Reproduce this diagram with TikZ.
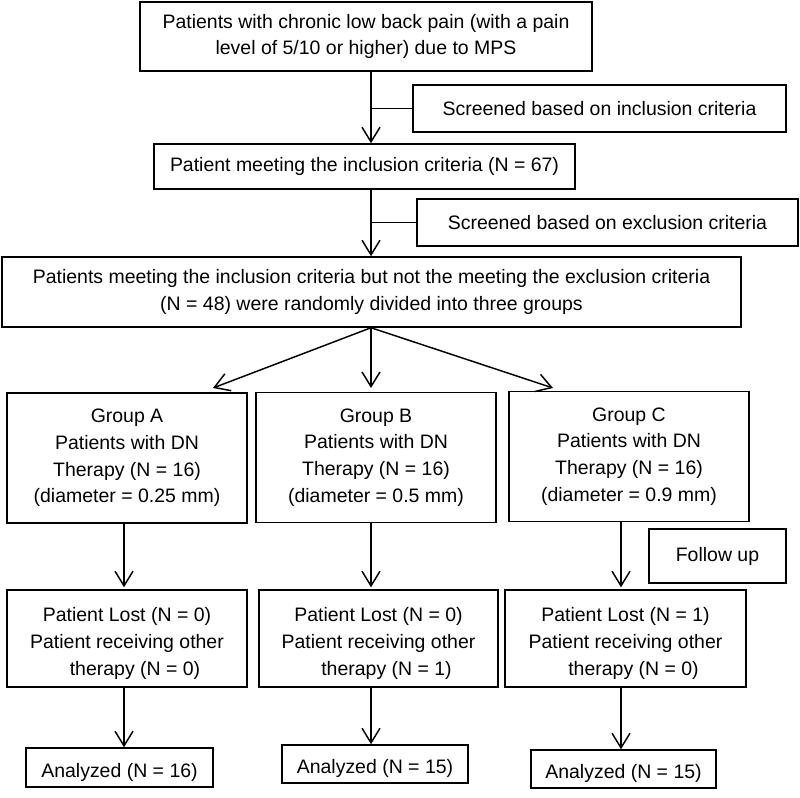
\documentclass[tikz,border=0pt]{standalone}
\usepackage{fontspec}
\setmainfont{Liberation Sans}
\usepackage{xcolor}
\usepackage{tikz}
\usetikzlibrary{calc,arrows.meta}
\definecolor{ink}{HTML}{000000}
\newcommand{\lowstrut}{\rule{0pt}{18pt}}
\newcommand{\indnt}{\hspace{12pt}}
\tikzset{
  box/.style={draw=ink, line width=1.1pt, align=center, inner sep=2pt,
    font=\fontsize{14.6}{20}\selectfont},
  link/.style={draw=ink, line width=1.1pt},
  arr/.style={link, -{Straight Barb[length=11pt,width=13.5pt,line width=1.1pt]}},
  every node/.style={text=ink}
}

\begin{document}
\begin{tikzpicture}[x=0.75pt,y=-0.75pt]
  \useasboundingbox (0,0) rectangle (800,797);
  % spine and columns
  \coordinate (sp) at (371,0);
  \coordinate (cA) at (124,0);
  \coordinate (cB) at (371,0);
  \coordinate (cC) at (621,0);
  \coordinate (tipA) at (213,388);
  \coordinate (tipB) at (371,388);
  \coordinate (tipC) at (553,388);

  \node[box, minimum width=339pt, minimum height=51.75pt] (pain) at (366,36.5)
    {Patients with chronic low back pain (with a pain\\level of 5/10 or higher) due to MPS};
  \node[box, minimum width=279.75pt, minimum height=35.25pt] (incl) at (599.5,108.5)
    {Screened based on inclusion criteria};
  \node[box, minimum width=315.75pt, minimum height=33.75pt] (meet) at (364.5,166.5)
    {Patient meeting the inclusion criteria (N = 67)};
  \node[box, minimum width=285.75pt, minimum height=35.25pt] (excl) at (607.5,222.5)
    {Screened based on exclusion criteria};
  \node[box, minimum width=554.25pt, minimum height=52.5pt] (rand) at (371.5,292)
    {Patients meeting the inclusion criteria but not the meeting the exclusion criteria\\(N = 48) were randomly divided into three groups};

  \node[box, minimum width=180pt, minimum height=97.5pt] (grpA) at (127,458)
    {Group A\\Patients with DN\\Therapy (N = 16)\\(diameter = 0.25 mm)};
  \node[box, minimum width=180pt, minimum height=97.5pt] (grpB) at (376,457.5)
    {Group B\\Patients with DN\\Therapy (N = 16)\\(diameter = 0.5 mm)};
  \node[box, minimum width=180pt, minimum height=97.5pt] (grpC) at (629,456.5)
    {Group C\\Patients with DN\\Therapy (N = 16)\\(diameter = 0.9 mm)};
  \node[box, minimum width=102.75pt, minimum height=40.5pt] (follow) at (717.5,556)
    {Follow up};

  \node[box, minimum width=180pt, minimum height=72.75pt] (lostA) at (127,638.5)
    {\lowstrut Patient Lost (N = 0)\\Patient receiving other\\\indnt therapy (N = 0)};
  \node[box, minimum width=179.25pt, minimum height=72.75pt] (lostB) at (378.5,638.5)
    {\lowstrut Patient Lost (N = 0)\\Patient receiving other\\\indnt therapy (N = 1)};
  \node[box, minimum width=180.75pt, minimum height=72.75pt] (lostC) at (625.5,638.5)
    {\lowstrut Patient Lost (N = 1)\\Patient receiving other\\\indnt therapy (N = 0)};

  \node[box, minimum width=140.25pt, minimum height=29.25pt] (anaA) at (119.5,767.5)
    {\lowstrut Analyzed (N = 16)};
  \node[box, minimum width=139.5pt, minimum height=28.5pt] (anaB) at (375,764)
    {\lowstrut Analyzed (N = 15)};
  \node[box, minimum width=138.75pt, minimum height=28.5pt] (anaC) at (623.5,769)
    {\lowstrut Analyzed (N = 15)};

  % screening steps
  \draw[arr] (pain.south -| sp) -- (meet.north -| sp);
  \draw[link] (incl.west) -- (incl.west -| sp);
  \draw[arr] (meet.south -| sp) -- (rand.north -| sp);
  \draw[link] (excl.west) -- (excl.west -| sp);

  % randomisation
  \draw[arr] (rand.south -| sp) -- (tipA);
  \draw[arr] (rand.south -| sp) -- (tipB);
  \draw[arr] (rand.south -| sp) -- (tipC);

  % follow up and analysis
  \draw[arr, shorten >=1.5pt] (grpA.south -| cA) -- (lostA.north -| cA);
  \draw[arr, shorten >=1.5pt] (grpB.south -| cB) -- (lostB.north -| cB);
  \draw[arr, shorten >=1.5pt] (grpC.south -| cC) -- (lostC.north -| cC);
  \draw[arr] (lostA.south -| cA) -- (anaA.north -| cA);
  \draw[arr] (lostB.south -| cB) -- (anaB.north -| cB);
  \draw[arr] (lostC.south -| cC) -- (anaC.north -| cC);
\end{tikzpicture}
\end{document}
